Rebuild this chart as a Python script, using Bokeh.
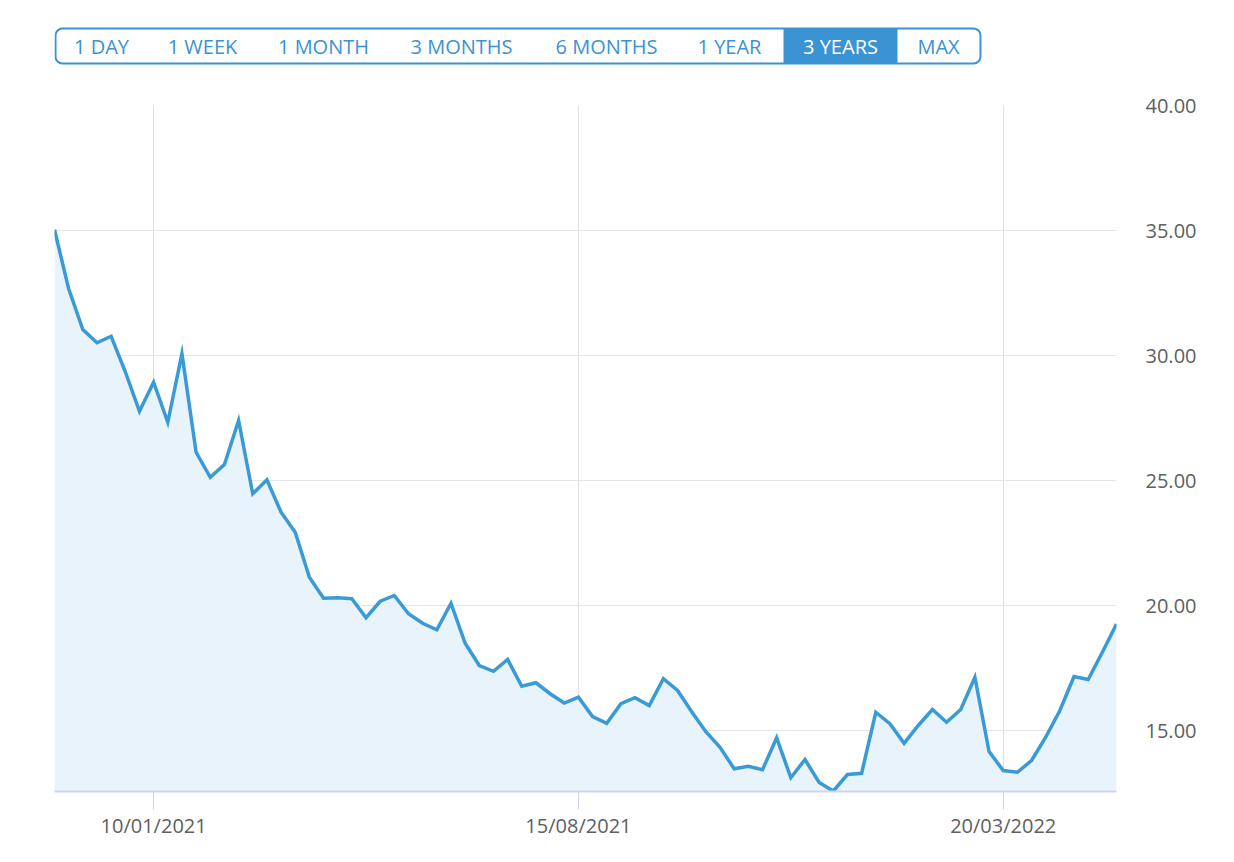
from bokeh.plotting import figure
from bokeh.models import Range1d, FixedTicker, BoxAnnotation
from bokeh.layouts import column
from bokeh.core.properties import value
from bokeh.embed import file_html
from bokeh.resources import INLINE

# ---------------- data ----------------
range_buttons = ["1 DAY", "1 WEEK", "1 MONTH", "3 MONTHS", "6 MONTHS", "1 YEAR", "3 YEARS", "MAX"]
selected_button = "3 YEARS"

prices = [35.03, 32.67, 31.04, 30.51, 30.77, 29.35, 27.77, 28.93, 27.33, 30.07,
          26.13, 25.13, 25.64, 27.40, 24.47, 25.03, 23.73, 22.93, 21.13, 20.29,
          20.31, 20.27, 19.51, 20.17, 20.40, 19.67, 19.29, 19.03, 20.09, 18.49,
          17.60, 17.37, 17.84, 16.77, 16.91, 16.47, 16.10, 16.33, 15.56, 15.29,
          16.07, 16.31, 16.00, 17.07, 16.60, 15.75, 14.95, 14.33, 13.47, 13.57,
          13.43, 14.71, 13.11, 13.84, 12.92, 12.58, 13.24, 13.29, 15.73, 15.27,
          14.49, 15.20, 15.84, 15.33, 15.84, 17.13, 14.16, 13.40, 13.33, 13.80,
          14.73, 15.80, 17.16, 17.04, 18.13, 19.26]
week_index = list(range(len(prices)))

x_tick_index = [7, 37, 67]
x_tick_labels = ["10/01/2021", "15/08/2021", "20/03/2022"]

y_ticks = [15, 20, 25, 30, 35, 40]
y_tick_labels = ["15.00", "20.00", "25.00", "30.00", "35.00", "40.00"]

# ---------------- styles / layout ----------------
W, BAR_H, CHART_H = 1234, 80, 782
FRAME_L, FRAME_R = 54, 1116
BLUE = "#3a93d3"
LINE_BLUE = "#3a9ad6"
FONT = "Open Sans"
Y_MIN, Y_MAX = 12.56, 40.0

# button bar geometry (pixels)
btn_centers = [101, 202, 323, 461, 606, 729, 840, 938]
btn_sel_edges = (783, 897)
bar_left, bar_right, bar_top, bar_bottom = 54, 980, 28, 63

# ---------------- button bar ----------------
bar = figure(width=W, height=BAR_H, x_range=Range1d(FRAME_L, FRAME_R), y_range=Range1d(BAR_H, 0),
             x_axis_type=None, y_axis_type=None, toolbar_location=None,
             output_backend="svg", min_border_left=FRAME_L, min_border_right=W - FRAME_R,
             min_border_top=0, min_border_bottom=0)
bar.grid.visible = False
bar.outline_line_color = None

bar.quad(left=[btn_sel_edges[0]], right=[btn_sel_edges[1]], top=[bar_top], bottom=[bar_bottom],
         fill_color=BLUE, line_color=None)
bar.add_layout(BoxAnnotation(left=bar_left + 1, right=bar_right, top=bar_top, bottom=bar_bottom,
                             fill_color=None, fill_alpha=0, line_color=BLUE, line_alpha=1.0,
                             line_width=2, border_radius=7, level="overlay"))
colors = ["white" if b == selected_button else BLUE for b in range_buttons]
bar.text(x=btn_centers, y=[46] * len(range_buttons), text=range_buttons, text_color=colors,
         text_align="center", text_baseline="middle",
         text_font=value(FONT), text_font_size=value("20px"))

# ---------------- chart ----------------
p = figure(width=W, height=CHART_H, x_range=Range1d(0, len(prices) - 1),
           y_range=Range1d(Y_MIN, Y_MAX), y_axis_location="right",
           toolbar_location=None, output_backend="svg",
           min_border_left=FRAME_L, min_border_right=W - FRAME_R, min_border_top=25, min_border_bottom=71)
p.outline_line_color = None

p.varea(x=week_index, y1=Y_MIN, y2=prices, fill_color="#e8f3fb")
p.line(x=week_index, y=prices, line_color=LINE_BLUE, line_width=3.5, line_join="miter")

# y axis (right)
p.yaxis.ticker = FixedTicker(ticks=y_ticks)
p.yaxis.major_label_overrides = dict(zip(y_ticks, y_tick_labels))
p.yaxis.axis_line_color = None
p.yaxis.major_tick_line_color = None
p.yaxis.minor_tick_line_color = None
p.yaxis.major_tick_out = 0
p.yaxis.major_tick_in = 0
p.yaxis.major_label_standoff = 29
p.yaxis.major_label_text_font = FONT
p.yaxis.major_label_text_font_size = "20px"
p.yaxis.major_label_text_color = "#606060"

# x axis
p.xaxis.ticker = FixedTicker(ticks=x_tick_index)
p.xaxis.major_label_overrides = dict(zip(x_tick_index, x_tick_labels))
p.xaxis.axis_line_color = "#ccd6eb"
p.xaxis.axis_line_width = 2
p.xaxis.major_tick_line_color = "#ccd6eb"
p.xaxis.major_tick_out = 18
p.xaxis.major_tick_in = 0
p.xaxis.minor_tick_line_color = None
p.xaxis.major_label_standoff = 2
p.xaxis.major_label_text_font = FONT
p.xaxis.major_label_text_font_size = "20px"
p.xaxis.major_label_text_color = "#606060"

p.xgrid.grid_line_color = "#e0e0e0"
p.ygrid.grid_line_color = "#e6e6e6"

layout = column(bar, p, spacing=0)
open("out.html", "w").write(file_html(layout, INLINE))
